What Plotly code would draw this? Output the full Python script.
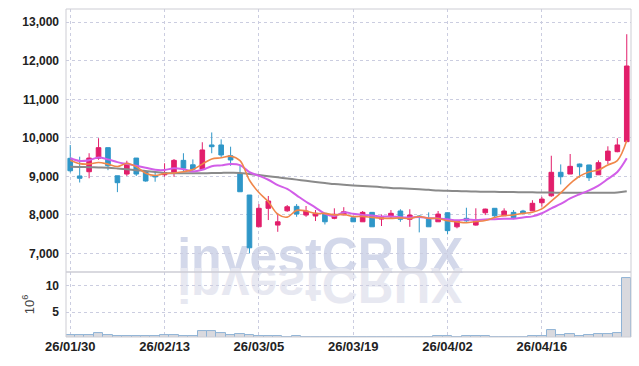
import plotly.graph_objects as go

dates = ["26/01/30", "26/02/02", "26/02/03", "26/02/04", "26/02/05", "26/02/06", "26/02/09", "26/02/10",
         "26/02/11", "26/02/12", "26/02/13", "26/02/19", "26/02/20", "26/02/23", "26/02/24", "26/02/25",
         "26/02/26", "26/02/27", "26/03/03", "26/03/04", "26/03/05", "26/03/06", "26/03/09", "26/03/10",
         "26/03/11", "26/03/12", "26/03/13", "26/03/16", "26/03/17", "26/03/18", "26/03/19", "26/03/20",
         "26/03/23", "26/03/24", "26/03/25", "26/03/26", "26/03/27", "26/03/30", "26/03/31", "26/04/01",
         "26/04/02", "26/04/03", "26/04/06", "26/04/07", "26/04/08", "26/04/09", "26/04/10", "26/04/13",
         "26/04/14", "26/04/15", "26/04/16", "26/04/17", "26/04/20", "26/04/21", "26/04/22", "26/04/23",
         "26/04/24", "26/04/27", "26/04/28", "26/04/29"]

open_ = [9468, 9010, 9120, 9470, 9745, 9015, 9060, 9475, 9120, 9015, 9040, 9105, 9415, 9300, 9185, 9815,
         9815, 9535, 9075, 8515, 7690, 8170, 7735, 8105, 8220, 7995, 7970, 8040, 7910, 8000, 7925, 7820,
         8065, 7890, 7950, 8100, 7885, 7970, 7890, 7820, 8055, 7690, 7910, 7735, 8055, 8170, 7975, 8065,
         8100, 8105, 8315, 8495, 9105, 9060, 9320, 9295, 9040, 9415, 9640, 9900]
high = [9813, 9510, 9600, 9990, 9745, 9015, 9405, 9475, 9120, 9120, 9340, 9450, 9600, 9440, 9885, 10140,
        9960, 9770, 9290, 8515, 8280, 8490, 8040, 8255, 8280, 8230, 8125, 8040, 8170, 8200, 7940, 8100,
        8070, 8010, 8125, 8145, 8145, 7990, 8065, 8100, 8065, 7850, 8185, 8170, 8160, 8175, 8170, 8125,
        8130, 8380, 8470, 9535, 9310, 9580, 9330, 9300, 9415, 9780, 9990, 12690]
low = [9100, 8840, 8950, 9430, 9160, 8590, 9010, 9010, 8860, 8860, 8990, 8990, 9120, 9120, 9180, 9600,
       9500, 9275, 8600, 7000, 7690, 7865, 7560, 8080, 7950, 7950, 7840, 7750, 7885, 7990, 7820, 7820,
       7690, 7710, 7910, 7820, 7690, 7545, 7690, 7820, 7495, 7650, 7820, 7720, 7995, 7910, 7975, 7885,
       8030, 8100, 8210, 8470, 8790, 9060, 8965, 8880, 9040, 9320, 9625, 9890]
close = [9145, 8950, 9475, 9745, 9275, 8835, 9340, 9060, 8880, 8990, 9095, 9415, 9210, 9185, 9685, 9770,
         9555, 9425, 8600, 7145, 8170, 8360, 7820, 8210, 8020, 8100, 8040, 7820, 8015, 8080, 7820, 8065,
         7690, 7925, 8040, 7885, 7995, 7945, 7690, 8020, 7590, 7840, 7845, 7840, 8150, 7975, 8100, 7925,
         8040, 8300, 8410, 9105, 8990, 9260, 9250, 8965, 9355, 9655, 9815, 11865]

ma5 = [9420, 9330, 9320, 9360, 9318, 9256, 9334, 9251, 9078, 9021, 9073, 9088, 9118, 9179, 9318, 9453,
       9481, 9524, 9407, 8899, 8579, 8340, 8019, 7941, 8116, 8102, 8038, 8038, 7999, 8011, 7955, 7960,
       7934, 7916, 7908, 7921, 7907, 7958, 7911, 7907, 7848, 7817, 7797, 7827, 7853, 7930, 7982, 7998,
       8038, 8068, 8155, 8356, 8569, 8813, 9003, 9114, 9164, 9297, 9408, 9931]
ma10 = [9470, 9400, 9420, 9490, 9440, 9370, 9320, 9275, 9225, 9170, 9165, 9211, 9185, 9129, 9170, 9263,
        9285, 9321, 9293, 9109, 9016, 8911, 8772, 8674, 8508, 8341, 8189, 8029, 7970, 8064, 8029, 7999,
        7986, 7958, 7960, 7938, 7934, 7946, 7914, 7908, 7885, 7862, 7878, 7869, 7880, 7889, 7900, 7898,
        7933, 7961, 8043, 8169, 8284, 8426, 8536, 8635, 8760, 8933, 9111, 9467]
ma60 = [9250, 9245, 9238, 9230, 9222, 9205, 9185, 9160, 9138, 9110, 9090, 9082, 9078, 9078, 9080, 9085,
        9090, 9094, 9090, 9060, 9034, 9005, 8975, 8945, 8915, 8885, 8855, 8828, 8800, 8780, 8765, 8750,
        8735, 8720, 8700, 8688, 8675, 8662, 8650, 8630, 8625, 8618, 8612, 8606, 8600, 8598, 8595, 8592,
        8588, 8585, 8580, 8578, 8576, 8575, 8574, 8574, 8573, 8574, 8580, 8613]

volume_m = [0.63, 0.63, 0.6, 1.0, 0.6, 0.5, 0.5, 0.5, 0.5, 0.5, 0.65, 0.65, 0.5, 0.5, 1.45, 1.45,
            1.0, 0.63, 0.87, 0.63, 0.55, 0.55, 0.55, 0.3, 0.55, 0.3, 0.3, 0.3, 0.3, 0.3, 0.3, 0.3,
            0.3, 0.3, 0.3, 0.3, 0.3, 0.3, 0.3, 0.55, 0.55, 0.3, 0.55, 0.55, 0.55, 0.3, 0.3, 0.3,
            0.3, 0.55, 0.55, 1.63, 0.68, 0.87, 0.5, 0.68, 0.87, 0.87, 1.06, 11.44]

price_ticks = [7000, 8000, 9000, 10000, 11000, 12000, 13000]
volume_ticks = [5, 10]
date_ticks = dates[::10]

UP = "#e21e6b"
DOWN = "#2f97c8"
GRID = "#cbcde0"
YFONT = dict(family="Liberation Sans, Arial, sans-serif", size=12, color="#222222", weight="bold")
XFONT = dict(family="Liberation Sans, Arial, sans-serif", size=13, color="#222222", weight="bold")

fig = go.Figure()
fig.add_trace(go.Candlestick(
    x=dates, open=open_, high=high, low=low, close=close,
    increasing=dict(line=dict(color=UP, width=1), fillcolor=UP),
    decreasing=dict(line=dict(color=DOWN, width=1), fillcolor=DOWN),
    whiskerwidth=0, yaxis="y", xaxis="x", showlegend=False,
))
fig.add_trace(go.Scatter(x=dates, y=ma60, mode="lines", line=dict(color="#8a8a8a", width=2, shape="spline"),
                         yaxis="y", showlegend=False))
fig.add_trace(go.Scatter(x=dates, y=ma10, mode="lines", line=dict(color="#d25ee8", width=2, shape="spline"),
                         yaxis="y", showlegend=False))
fig.add_trace(go.Scatter(x=dates, y=ma5, mode="lines", line=dict(color="#f0874a", width=1.6, shape="spline"),
                         yaxis="y", showlegend=False))
fig.add_trace(go.Bar(x=dates, y=volume_m, yaxis="y2", marker=dict(color="#d9d9de", line=dict(color="#8fb3d6", width=1)),
                     showlegend=False))

split = 0.198
fig.update_layout(
    width=639, height=366,
    margin=dict(l=66, r=8, t=9, b=29),
    paper_bgcolor="white", plot_bgcolor="rgba(0,0,0,0)",
    bargap=0,
    xaxis=dict(type="category", range=[-0.45, 59.45], rangeslider=dict(visible=False), automargin=False,
               tickmode="array", tickvals=date_ticks, ticktext=date_ticks,
               showgrid=True, gridcolor=GRID, griddash="dot", gridwidth=1,
               showline=False, zeroline=False, ticks="", tickfont=XFONT, anchor="y2"),
    yaxis=dict(domain=[split, 1], range=[6515, 13345], tickmode="array", tickvals=price_ticks, automargin=False,
               tickformat=",d", showgrid=True, gridcolor=GRID, griddash="dot", zeroline=False,
               tickfont=YFONT, ticks="", ticklabelstandoff=6),
    yaxis2=dict(domain=[0, split], range=[0.3, 12.63], tickmode="array", tickvals=volume_ticks, automargin=False,
                showgrid=True, gridcolor=GRID, griddash="dot", zeroline=False,
                tickfont=YFONT, ticks="", ticklabelstandoff=6,
                title=dict(text="10<sup>6</sup>", font=dict(family="Liberation Sans, sans-serif", size=13, color="#444"),
                           standoff=8)),
    shapes=[
        dict(type="rect", xref="paper", yref="paper", x0=0.05, x1=0.85, y0=0.210, y1=0.312,
             line=dict(width=0), fillcolor="rgba(0,0,0,0)", layer="below",
             label=dict(text="investCRUX", font=dict(family="Liberation Sans, Arial, sans-serif", size=50,
                                                     color="#d3d8ea", weight="bold"),
                        textposition="middle center")),
        dict(type="rect", xref="paper", yref="paper", x0=0.05, x1=0.85, y0=0.122, y1=0.224,
             line=dict(width=0), fillcolor="rgba(0,0,0,0)", layer="below",
             label=dict(text="investCRUX", font=dict(family="Liberation Sans, Arial, sans-serif", size=50,
                                                     color="#e7e8f1", weight="bold"),
                        textposition="middle center")),
        dict(type="rect", xref="paper", yref="paper", x0=0, x1=1, y0=0, y1=1,
             line=dict(color="#cdcdd4", width=1), fillcolor="rgba(0,0,0,0)", layer="above"),
        dict(type="line", xref="paper", yref="paper", x0=0, x1=1, y0=split, y1=split,
             line=dict(color="#cdcdd4", width=1.5), layer="above"),
    ],
)

post = """
document.body.style.margin = '0';
document.body.style.padding = '0';
document.body.style.overflow = 'hidden';
var gd = document.getElementById('{plot_id}');
function flipRefl(){
  var found = 0;
  var texts = gd.querySelectorAll('text');
  for (var i = 0; i < texts.length; i++) {
    var t = texts[i];
    if (t.textContent === 'investCRUX') {
      found++;
      if (found === 2 && !t.getAttribute('data-flipped')) {
        var bb = t.getBBox();
        var cy = bb.y + bb.height / 2;
        var ex = t.getAttribute('transform') || '';
        t.setAttribute('transform', ex + ' translate(0,' + (2 * cy) + ') scale(1,-1)');
        t.setAttribute('data-flipped', '1');
      }
    }
  }
}
flipRefl();
"""

fig.write_html("out.html", post_script=post, config={"displayModeBar": False})
